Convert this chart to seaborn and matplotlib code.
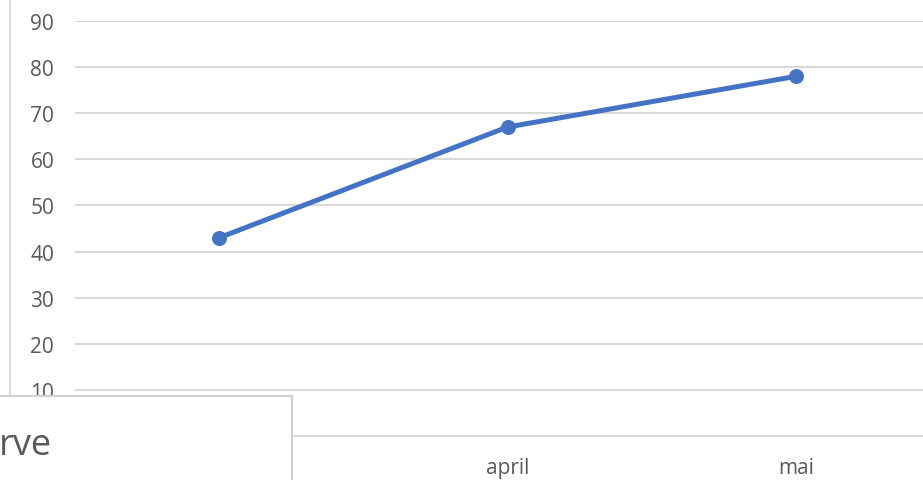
import pandas as pd
import matplotlib
matplotlib.use('Agg')
import matplotlib.pyplot as plt
import matplotlib.lines as mlines
import matplotlib.patches as mpatches
import seaborn as sns

# values (first month is hidden behind the title box)
months = ['mars', 'april', 'mai']
values = [43, 67, 78]
y_ticks = [10, 20, 30, 40, 50, 60, 70, 80, 90]

df = pd.DataFrame({'month': months, 'value': values})

sns.set_style('white')
plt.rcParams['font.family'] = ['Open Sans', 'DejaVu Sans']

W, H = 923, 481
fig = plt.figure(figsize=(W / 100, H / 100), dpi=100)
# plot area runs past the right edge of the crop
ax = fig.add_axes([75 / W, 44 / H, 865 / W, 415 / H])

sns.lineplot(data=df, x='month', y='value', sort=False, color='#4472C4',
             linewidth=3.6, marker='o', markersize=10,
             markeredgecolor='#4472C4', ax=ax, zorder=3)

ax.set_xlim(-0.5, 2.5)
ax.set_ylim(0, 90)
ax.set_yticks(y_ticks)
ax.grid(axis='y', color='#d9d9d9', linewidth=1.5)
ax.set_axisbelow(True)
for s in ['top', 'right', 'left']:
    ax.spines[s].set_visible(False)
ax.spines['bottom'].set_color('#d9d9d9')
ax.spines['bottom'].set_linewidth(1.5)
ax.tick_params(axis='y', length=0, pad=15, labelsize=15, labelcolor='#595959')
ax.tick_params(axis='x', length=0, pad=15, labelsize=15, labelcolor='#595959')
ax.set_xlabel('')
ax.set_ylabel('')

# chart border on the left
fig.add_artist(mlines.Line2D([10 / W, 10 / W], [84 / H, 1], color='#d9d9d9',
                             linewidth=1.5, transform=fig.transFigure, zorder=4))

# overlapping title box
box = mpatches.Rectangle((-10 / W, -10 / H), 302 / W, 94 / H,
                         transform=fig.transFigure, facecolor='white',
                         edgecolor='#d0d0d0', linewidth=1.5, zorder=5)
fig.add_artist(box)
fig.text(-1 / W, 1 - 446 / H, 'rve', fontsize=26, color='#595959',
         va='center', ha='left', zorder=6)

fig.savefig('out.png', dpi=100)
